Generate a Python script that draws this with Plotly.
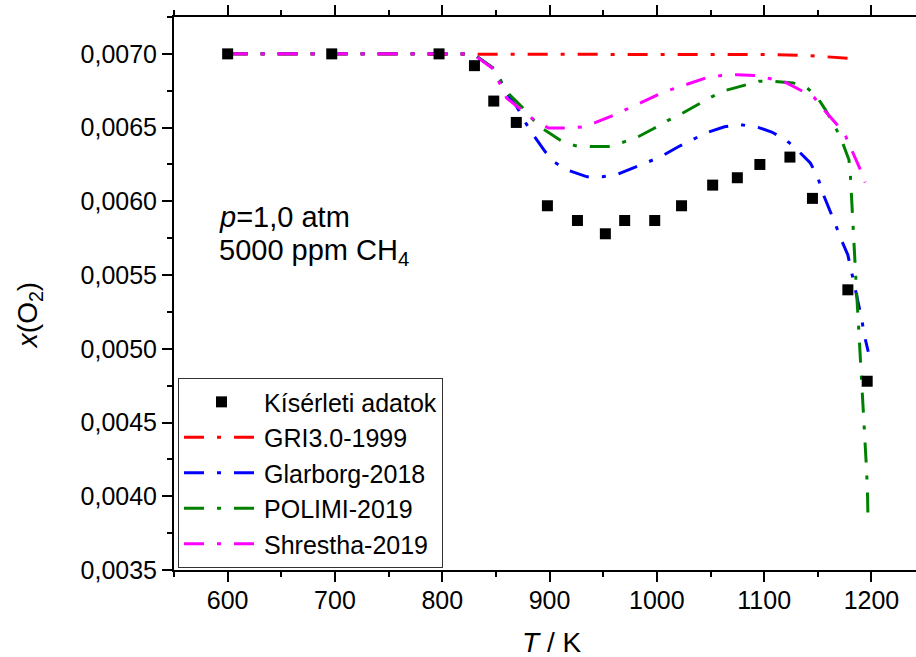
import plotly.graph_objects as go

# ---------------- data ----------------
exp_T = [600, 697, 797, 830, 848, 869, 898, 926, 952, 970, 998, 1023, 1052, 1075, 1096, 1124, 1145, 1178, 1196]
exp_x = [0.00700, 0.00700, 0.00700, 0.00692, 0.00668, 0.006535, 0.00597, 0.00587, 0.00578, 0.00587,
         0.00587, 0.00597, 0.00611, 0.00616, 0.00625, 0.00630, 0.00602, 0.00540, 0.00478]

gri_T = [600, 700, 800, 900, 1000, 1100, 1137, 1150, 1169, 1188]
gri_x = [0.00700, 0.00700, 0.00700, 0.00700, 0.00700, 0.006995, 0.00699, 0.006984, 0.006977, 0.006966]

glar_T = [600, 700, 800, 825, 832, 847, 854, 860, 870, 877, 884, 896, 904, 916, 935, 949, 962, 979,
          991, 1003, 1020, 1033, 1046, 1063, 1078, 1095, 1107, 1120, 1130, 1143, 1150, 1154, 1161, 1166,
          1171, 1178, 1181, 1184, 1188, 1191, 1193, 1197]
glar_x = [0.00700, 0.00700, 0.00700, 0.00700, 0.006984, 0.006905, 0.006825, 0.006737, 0.006635, 0.00654,
          0.00646, 0.006336, 0.006268, 0.006214, 0.006166, 0.006166, 0.00618, 0.006232, 0.006268, 0.00630,
          0.00637, 0.006418, 0.006465, 0.006506, 0.00652, 0.00650, 0.00647, 0.006418, 0.006355, 0.00626,
          0.006164, 0.006067, 0.005947, 0.005852, 0.005754, 0.005636, 0.005536, 0.005432, 0.005307,
          0.00520, 0.005104, 0.00498]

poli_T = [600, 700, 800, 825, 832, 847, 861, 875, 884, 894, 911, 924, 938, 955, 969, 982, 998, 1010,
          1023, 1039, 1051, 1064, 1082, 1095, 1109, 1127, 1140, 1149, 1157, 1166, 1172, 1179, 1180.3,
          1181, 1182, 1183, 1184.5, 1186, 1188, 1190, 1192, 1194, 1195.5, 1196.4, 1196.8]
poli_x = [0.00700, 0.00700, 0.00700, 0.00700, 0.006984, 0.006905, 0.006736, 0.006634, 0.006558, 0.00649,
          0.00641, 0.006377, 0.006372, 0.006372, 0.006402, 0.006436, 0.006497, 0.006547, 0.006594,
          0.006662, 0.006708, 0.006752, 0.006791, 0.006814, 0.006814, 0.006803, 0.006769, 0.006712,
          0.006622, 0.006508, 0.006418, 0.006282, 0.006185, 0.006083, 0.005949, 0.005745, 0.005616,
          0.00540, 0.00515, 0.00490, 0.00463, 0.00435, 0.00417, 0.00399, 0.00382]

shr_T = [600, 700, 800, 825, 832, 847, 860, 875, 886, 899, 917, 930, 943, 961, 973, 986, 1003, 1015,
         1029, 1046, 1060, 1074, 1093, 1106, 1120, 1136, 1147, 1155.5, 1168, 1176, 1181.5, 1189, 1194]
shr_x = [0.00700, 0.00700, 0.00700, 0.00700, 0.00698, 0.00690, 0.00670, 0.00661, 0.00655, 0.006497,
         0.006497, 0.006504, 0.006535, 0.006588, 0.006628, 0.006671, 0.00673, 0.006762, 0.006798,
         0.006837, 0.006853, 0.006859, 0.006853, 0.006832, 0.006807, 0.006746, 0.006701, 0.006622,
         0.00652, 0.00644, 0.00635, 0.006225, 0.006128]

names = ["Kísérleti adatok", "GRI3.0-1999", "Glarborg-2018", "POLIMI-2019", "Shrestha-2019"]
colors = ["#000000", "#FF0000", "#0000FF", "#008000", "#FF00FF"]

FONT = "Liberation Sans, Arial, sans-serif"
DASH = "20px,13px,4px,13px"

fig = go.Figure()
rank = 2
for T, X, nm, col in [(gri_T, gri_x, names[1], colors[1]), (glar_T, glar_x, names[2], colors[2]),
                      (poli_T, poli_x, names[3], colors[3]), (shr_T, shr_x, names[4], colors[4])]:
    fig.add_trace(go.Scatter(x=T, y=X, mode="lines", name=nm, legendrank=rank,
                             line=dict(color=col, width=3, dash=DASH)))
    rank += 1
fig.add_trace(go.Scatter(x=exp_T, y=exp_x, mode="markers", name=names[0], legendrank=1,
                         marker=dict(symbol="square", size=11, color=colors[0])))

axis_common = dict(showline=True, linecolor="black", linewidth=2, ticks="outside",
                   ticklen=10, tickwidth=1.5, tickcolor="black", showgrid=False, zeroline=False,
                   tickfont=dict(family=FONT, size=25, color="black"))

fig.update_xaxes(range=[550, 1241.5], tick0=0, dtick=100, mirror="ticks",
                 ticklabelstandoff=-3,
                 minor=dict(dtick=50, ticks="outside", ticklen=5, tickwidth=1.5, tickcolor="black"),
                 **axis_common)
fig.update_yaxes(range=[0.0035, 0.00725], tick0=0, dtick=0.0005, tickformat=".4f", mirror=False,
                 ticklabelstandoff=0,
                 minor=dict(dtick=0.00025, ticks="outside", ticklen=5, tickwidth=1.5, tickcolor="black"),
                 **axis_common)

fig.update_layout(
    width=916, height=657,
    margin=dict(l=174, r=0, t=17, b=87),
    paper_bgcolor="white", plot_bgcolor="white",
    separators=", ",
    font=dict(family=FONT, size=25, color="black"),
    legend=dict(x=0.0054, y=0.347, xanchor="left", yanchor="top",
                bordercolor="#333333", borderwidth=1, bgcolor="white",
                font=dict(family=FONT, size=25, color="black"),
                itemwidth=75, traceorder="normal", tracegroupgap=0),
    showlegend=True,
    annotations=[
        dict(text="<i>T</i> / K", x=0.509, y=-0.132, xref="paper", yref="paper",
             showarrow=False, font=dict(family=FONT, size=28), xanchor="center", yanchor="middle"),
        dict(text="<i>x</i>(O<sub>2</sub>)", x=-0.1954, y=0.459, xref="paper", yref="paper",
             showarrow=False, textangle=-90, font=dict(family=FONT, size=28),
             xanchor="center", yanchor="middle"),
        dict(text="<i>p</i>=1,0 atm", x=0.058, y=0.638, xref="paper", yref="paper",
             showarrow=False, font=dict(family=FONT, size=29), xanchor="left", yanchor="middle"),
        dict(text="5000 ppm CH<sub>4</sub>", x=0.058, y=0.575, xref="paper", yref="paper",
             showarrow=False, font=dict(family=FONT, size=29), xanchor="left", yanchor="middle"),
    ],
)

fig.write_html("out.html")
